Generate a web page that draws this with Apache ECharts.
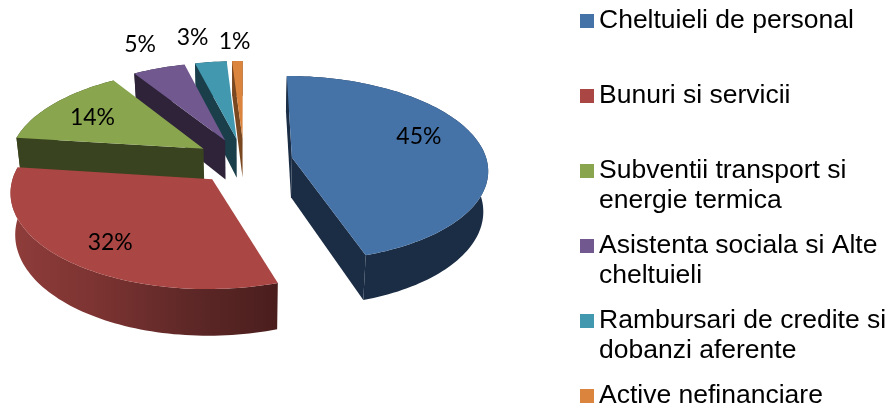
<!DOCTYPE html>
<html>
<head>
<meta charset="utf-8">
<style>html,body{margin:0;padding:0;background:#fff}#c{width:890px;height:405px}</style>
<script src="https://cdn.jsdelivr.net/npm/echarts@6/dist/echarts.min.js"></script>
</head>
<body>
<div id="c"></div>
<script>
// ---- data ----
const categories = [
  "Cheltuieli de personal",
  "Bunuri si servicii",
  "Subventii transport si\nenergie termica",
  "Asistenta sociala si Alte\ncheltuieli",
  "Rambursari de credite si\ndobanzi aferente",
  "Active nefinanciare"
];
const values = [45, 32, 14, 5, 3, 1];

// ---- styles ----
const topColors = ["#4572A7", "#AA4643", "#89A54E", "#71588F", "#4198AF", "#DB843D"];
const wallColors = ["#1B2D45", "#5A2726", "#3A431F", "#2E2339", "#1A3E4A", "#7A4820"];
const redRim = ["#8F3D3B", "#7B3331", "#5E2827", "#4A1E1D"];
const drawOrder = [4, 5, 3, 2, 1, 0];
const labelShift = [[127,-21],[-102,63],[-111,-31],[-85,-96],[-44,-101],[-8,-97]];
const legendCenters = [21, 96, 171, 246, 321, 396];

// ---- perspective pie geometry (radius units on the ground plane) ----
const X0 = 244, Y0 = 161, A = 195, B = 92, K = 0.12, EXPLODE = 0.25, DEPTH = 40, SHRINK = 0.98;
const total = values.reduce((a, b) => a + b, 0);
function project(x, v, bottom) {
  const s = 1 / (1 - K * v);
  let px = A * x * s, py = Y0 + B * v * s;
  if (bottom) { px *= SHRINK; py += DEPTH * s; }
  return [X0 + px, py];
}
function sliceShape(i) {
  let acc = 0;
  for (let k = 0; k < i; k++) acc += values[k];
  const a0 = acc / total * 2 * Math.PI, a1 = (acc + values[i]) / total * 2 * Math.PI;
  const mid = (a0 + a1) / 2;
  const cx = Math.sin(mid) * EXPLODE, cv = -Math.cos(mid) * EXPLODE;
  const n = Math.max(3, Math.ceil((a1 - a0) / (Math.PI / 120)));
  const top = [], bot = [];
  for (let k = 0; k <= n; k++) {
    const t = a0 + (a1 - a0) * k / n;
    const x = cx + Math.sin(t), v = cv - Math.cos(t);
    top.push(project(x, v, false));
    bot.push(project(x, v, true));
  }
  return { top, bot, c: project(cx, cv, false), cb: project(cx, cv, true), midPt: top[Math.floor(n / 2)] };
}
function cross(a, b, p) { return (b[0]-a[0])*(p[1]-a[1]) - (b[1]-a[1])*(p[0]-a[0]); }
function wallVisible(c, rim, midPt) {
  return cross(c, rim, midPt) * cross(c, rim, [c[0], c[1] + 1]) < 0;
}
function makeRender(i) {
  return function (params, api) {
    const g = sliceShape(i);
    const children = [];
    const rimFill = i === 1
      ? { type: 'linear', x: 0, y: 0, x2: 1, y2: 0,
          colorStops: redRim.map((c, k) => ({ offset: k / (redRim.length - 1), color: c })) }
      : wallColors[i];
    children.push({ type: 'polygon', shape: { points: g.top.concat(g.bot.slice().reverse()) },
      style: { fill: rimFill } });
    const last = g.top.length - 1;
    [[g.top[0], g.bot[0]], [g.top[last], g.bot[last]]].forEach(function (e) {
      if (wallVisible(g.c, e[0], g.midPt)) {
        children.push({ type: 'polygon', shape: { points: [g.c, e[0], e[1], g.cb] },
          style: { fill: wallColors[i] } });
      }
    });
    children.push({ type: 'polygon', shape: { points: [g.c].concat(g.top) },
      style: { fill: topColors[i] } });
    children.push({ type: 'text', x: g.c[0] + labelShift[i][0], y: g.c[1] + labelShift[i][1],
      style: { text: api.value(0) + '%', fill: '#000', font: '23px Lato', align: 'center', verticalAlign: 'middle' } });
    return { type: 'group', children };
  };
}

const chart = echarts.init(document.getElementById('c'), null, { renderer: 'canvas' });
chart.setOption({
  animation: false,
  backgroundColor: '#fff',
  tooltip: { show: false },
  legend: categories.map(function (name, i) {
    const two = name.indexOf('\n') >= 0;
    return {
      data: [{ name: name, icon: 'rect' }], orient: 'vertical', left: 580, padding: 0,
      top: legendCenters[i] - (two ? 45 : 15), itemWidth: 14, itemHeight: 14, selectedMode: false,
      // a blank first line keeps the marker level with the first line of wrapped names
      formatter: two ? function (n) { return '\n' + n; } : '{name}',
      textStyle: { fontFamily: 'Liberation Sans', fontSize: 26.5, color: '#000', lineHeight: 30 }
    };
  }),
  series: categories.map(function (name, i) {
    return {
      type: 'custom', name, coordinateSystem: 'none', z: 2 + drawOrder[i], silent: true,
      itemStyle: { color: topColors[i] },
      data: [[values[i]]], renderItem: makeRender(i)
    };
  })
});
</script>
</body>
</html>
